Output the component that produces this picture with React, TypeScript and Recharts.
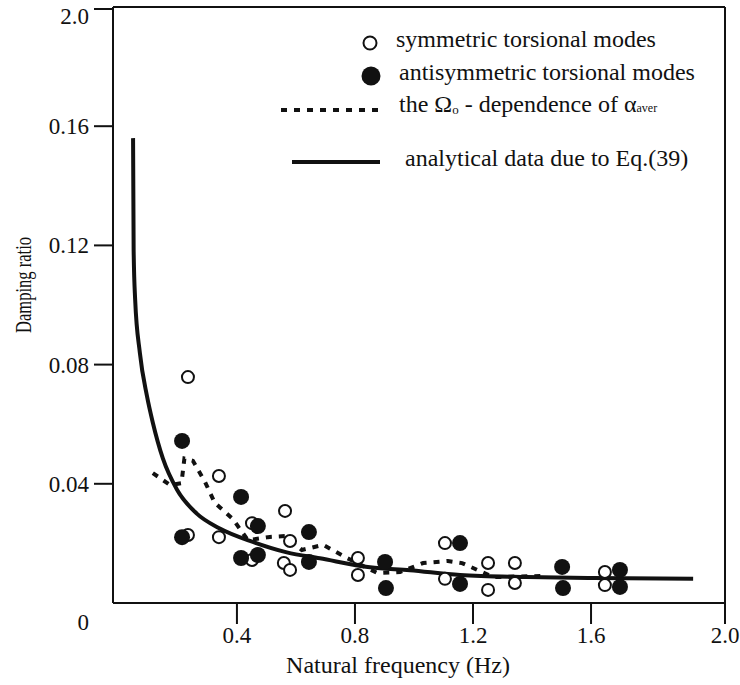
import React from 'react';
import { ComposedChart, Line, Scatter, XAxis, YAxis, ReferenceLine } from 'recharts';

// symmetric torsional modes (open circles)
const symFreq = [0.234, 0.234, 0.339, 0.339, 0.451, 0.563, 0.58, 0.451, 0.559, 0.58, 0.81, 0.81, 1.105, 1.105, 1.251, 1.251, 1.342, 1.342, 1.647, 1.647];
const symDamp = [0.0758, 0.0228, 0.0426, 0.0221, 0.0268, 0.0309, 0.0208, 0.0144, 0.0134, 0.0111, 0.0151, 0.0094, 0.0201, 0.0081, 0.0134, 0.0044, 0.0134, 0.0067, 0.0104, 0.006];

// antisymmetric torsional modes (filled circles)
const antiFreq = [0.214, 0.214, 0.414, 0.471, 0.414, 0.471, 0.644, 0.644, 0.902, 0.905, 1.156, 1.156, 1.502, 1.505, 1.698, 1.698];
const antiDamp = [0.0544, 0.0221, 0.0356, 0.0258, 0.0151, 0.0161, 0.0238, 0.0138, 0.0138, 0.005, 0.0201, 0.0064, 0.0121, 0.005, 0.0111, 0.0054];

// the Omega_0 - dependence of alpha_aver (dotted)
const avgFreq = [0.115, 0.173, 0.212, 0.222, 0.251, 0.292, 0.325, 0.386, 0.437, 0.505, 0.563, 0.62, 0.692, 0.773, 0.875, 0.953, 1.031, 1.115, 1.163, 1.268, 1.444];
const avgDamp = [0.0436, 0.0396, 0.0402, 0.0485, 0.0477, 0.0406, 0.0336, 0.0282, 0.0211, 0.0221, 0.0225, 0.0178, 0.0195, 0.0151, 0.0101, 0.0104, 0.0134, 0.0141, 0.0134, 0.0087, 0.0091];

// analytical data due to Eq.(39) (solid)
const eqFreq = [0.048, 0.05, 0.055, 0.071, 0.095, 0.115, 0.149, 0.197, 0.264, 0.342, 0.454, 0.569, 0.681, 0.851, 0.986, 1.156, 1.383, 1.607, 1.946];
const eqDamp = [0.156, 0.118, 0.102, 0.084, 0.0695, 0.0605, 0.0485, 0.038, 0.03, 0.025, 0.0205, 0.017, 0.015, 0.012, 0.011, 0.0094, 0.0087, 0.0084, 0.0081];

const xTicks = [0.4, 0.8, 1.2, 1.6, 2.054];
const yTicks = [0, 0.04, 0.08, 0.12, 0.16, 0.2];

const zip = (xs: number[], ys: number[]) => xs.map((x, i) => ({ x, y: ys[i] }));

const FONT = '"Liberation Serif", "Times New Roman", serif';
const INK = '#111';

const YTick = (props: any) => {
  const { x, y, payload } = props;
  const v = payload.value;
  const isZero = v === 0;
  const isTop = v === 0.2;
  const label = isZero ? '0' : isTop ? '2.0' : v.toFixed(2);
  return (
    <g>
      {!isZero && <line x1={x + 5} x2={x + 24} y1={y} y2={y} stroke={INK} strokeWidth={2} />}
      <text x={x} y={y + (isZero ? 19 : isTop ? 7 : 0)} dy="0.35em" textAnchor="end" fontSize={23} fontFamily={FONT} fill={INK}>
        {label}
      </text>
    </g>
  );
};

const OpenDot = (props: any) => (
  <circle cx={props.cx} cy={props.cy} r={6} fill="#fff" stroke={INK} strokeWidth={2} />
);
const FilledDot = (props: any) => <circle cx={props.cx} cy={props.cy} r={8} fill={INK} />;

const LegendLayer = () => (
  <svg width={740} height={685} style={{ position: 'absolute', left: 0, top: 0, pointerEvents: 'none' }}>
    <g fontFamily={FONT} fontSize={24} fill={INK}>
      <circle cx={370} cy={43} r={6.5} fill="#fff" stroke={INK} strokeWidth={2} />
      <text x={396} y={47}>symmetric torsional modes</text>
      <circle cx={371} cy={76} r={9.5} fill={INK} />
      <text x={399} y={80}>antisymmetric torsional modes</text>
      <line x1={281} x2={380} y1={110} y2={110} stroke={INK} strokeWidth={4} strokeDasharray="6 7" />
      <text x={399} y={112}>
        <tspan>the Ω</tspan>
        <tspan fontSize={13} dy={2}>o</tspan>
        <tspan dy={-2}> - dependence of α</tspan>
        <tspan fontSize={12}>aver</tspan>
      </text>
      <line x1={292} x2={380} y1={162} y2={162} stroke={INK} strokeWidth={4} />
      <text x={405} y={166}>analytical data due to Eq.(39)</text>
    </g>
  </svg>
);

export default function App() {
  return (
    <div style={{ position: 'absolute', left: 0, top: 0, width: 740, height: 685, background: '#fff' }}>
      <ComposedChart width={740} height={685} margin={{ top: 7, right: 15, bottom: 0, left: 0 }}>
        <XAxis
          type="number"
          dataKey="x"
          domain={[-0.02, 2.054]}
          ticks={xTicks}
          height={82}
          tickSize={21}
          tickMargin={3}
          tickFormatter={(v: number) => (v > 2 ? '2.0' : v.toFixed(1))}
          tick={{ fontSize: 23, fontFamily: FONT, fill: INK }}
          axisLine={{ stroke: INK, strokeWidth: 2 }}
          tickLine={{ stroke: INK, strokeWidth: 2 }}
          label={() => (
            <text x={398} y={673} textAnchor="middle" fontSize={24} fontFamily={FONT} fill={INK}>
              Natural frequency (Hz)
            </text>
          )}
        />
        <YAxis
          type="number"
          dataKey="y"
          domain={[0, 0.2]}
          ticks={yTicks}
          width={113}
          tickSize={19}
          tickMargin={5}
          tickLine={false}
          tick={YTick}
          axisLine={{ stroke: INK, strokeWidth: 2 }}
          label={() => (
            <text
              x={23}
              y={285}
              transform="rotate(-90 23 285)"
              textAnchor="middle"
              dominantBaseline="central"
              fontSize={23}
              fontFamily={FONT}
              fill={INK}
              textLength={96}
              lengthAdjust="spacingAndGlyphs"
            >
              Damping ratio
            </text>
          )}
        />
        <ReferenceLine y={0.2} stroke={INK} strokeWidth={2} />
        <ReferenceLine x={2.054} stroke={INK} strokeWidth={2} />
        <Scatter data={zip(symFreq, symDamp)} dataKey="y" shape={OpenDot} isAnimationActive={false} />
        <Scatter data={zip(antiFreq, antiDamp)} dataKey="y" shape={FilledDot} isAnimationActive={false} />
        <Line
          data={zip(avgFreq, avgDamp)}
          dataKey="y"
          type="linear"
          stroke={INK}
          strokeWidth={4}
          strokeDasharray="6 7"
          dot={false}
          isAnimationActive={false}
        />
        <Line
          data={zip(eqFreq, eqDamp)}
          dataKey="y"
          type="monotone"
          stroke={INK}
          strokeWidth={4}
          dot={false}
          isAnimationActive={false}
        />
      </ComposedChart>
      <LegendLayer />
    </div>
  );
}
